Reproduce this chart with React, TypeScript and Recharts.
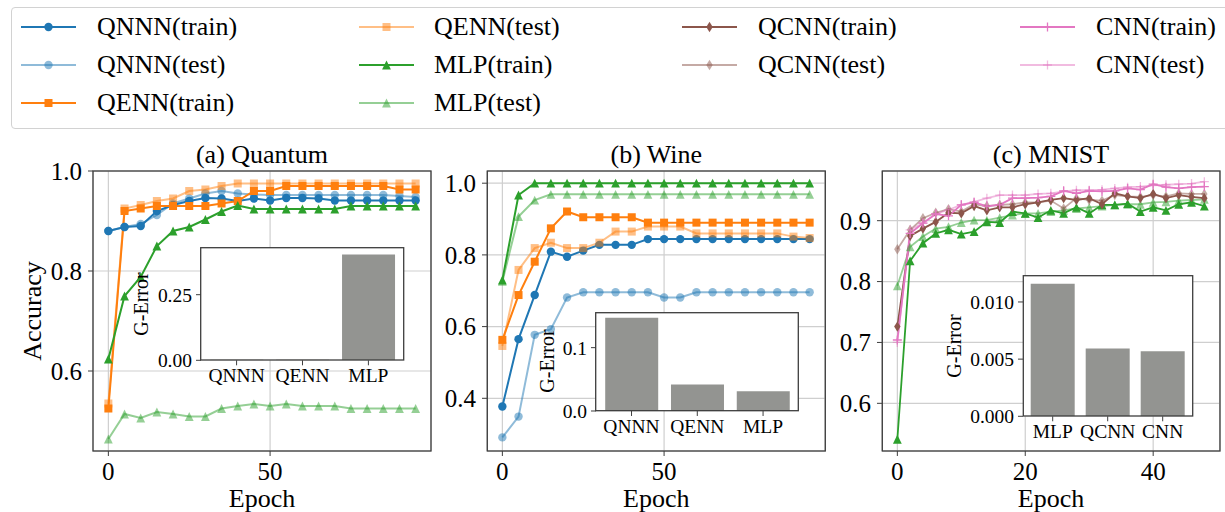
import React from 'react';
import { LineChart, Line, XAxis, YAxis, CartesianGrid, BarChart, Bar } from 'recharts';

const FONT = "'Liberation Serif', 'DejaVu Serif', serif";
const BLUE = '#1f77b4';
const ORANGE = '#ff7f0e';
const GREEN = '#2ca02c';
const BROWN = '#8c564b';
const PINK = '#e377c2';
const SPINE = '#3d3d3d';
const GRID = '#cfcfcf';
const BAR = '#939491';

// (a) Quantum
const quantumEpochs = [0, 5, 10, 15, 20, 25, 30, 35, 40, 45, 50, 55, 60, 65, 70, 75, 80, 85, 90, 95];
const quantumQnnnTrain = [0.880, 0.888, 0.890, 0.920, 0.932, 0.940, 0.946, 0.945, 0.940, 0.945, 0.941, 0.946, 0.946, 0.945, 0.941, 0.941, 0.941, 0.941, 0.941, 0.941];
const quantumQnnnTest = [0.880, 0.888, 0.894, 0.912, 0.935, 0.945, 0.955, 0.960, 0.955, 0.953, 0.952, 0.952, 0.952, 0.952, 0.952, 0.952, 0.952, 0.952, 0.950, 0.948];
const quantumQennTrain = [0.525, 0.920, 0.925, 0.930, 0.930, 0.930, 0.930, 0.935, 0.940, 0.960, 0.960, 0.970, 0.970, 0.970, 0.970, 0.970, 0.970, 0.970, 0.963, 0.963];
const quantumQennTest = [0.535, 0.925, 0.932, 0.940, 0.945, 0.960, 0.963, 0.970, 0.975, 0.975, 0.975, 0.975, 0.975, 0.975, 0.975, 0.975, 0.975, 0.975, 0.975, 0.975];
const quantumMlpTrain = [0.624, 0.750, 0.788, 0.850, 0.880, 0.888, 0.903, 0.919, 0.931, 0.924, 0.924, 0.924, 0.924, 0.924, 0.924, 0.930, 0.930, 0.930, 0.930, 0.930];
const quantumMlpTest = [0.464, 0.514, 0.506, 0.518, 0.514, 0.509, 0.509, 0.525, 0.530, 0.534, 0.530, 0.534, 0.530, 0.530, 0.530, 0.525, 0.525, 0.525, 0.525, 0.525];
const quantumModels = ['QNNN', 'QENN', 'MLP'];
const quantumGError = [0.002, 0.002, 0.4035];

// (b) Wine
const wineEpochs = [0, 5, 10, 15, 20, 25, 30, 35, 40, 45, 50, 55, 60, 65, 70, 75, 80, 85, 90, 95];
const wineQnnnTrain = [0.377, 0.565, 0.688, 0.809, 0.795, 0.812, 0.828, 0.828, 0.828, 0.844, 0.844, 0.844, 0.844, 0.844, 0.844, 0.844, 0.844, 0.844, 0.844, 0.844];
const wineQnnnTest = [0.291, 0.349, 0.577, 0.593, 0.681, 0.696, 0.696, 0.696, 0.696, 0.696, 0.681, 0.681, 0.696, 0.696, 0.696, 0.696, 0.696, 0.696, 0.696, 0.696];
const wineQennTrain = [0.563, 0.688, 0.781, 0.874, 0.921, 0.905, 0.905, 0.905, 0.905, 0.890, 0.890, 0.890, 0.890, 0.890, 0.890, 0.890, 0.890, 0.890, 0.890, 0.890];
const wineQennTest = [0.546, 0.758, 0.819, 0.834, 0.819, 0.819, 0.834, 0.865, 0.865, 0.879, 0.879, 0.879, 0.860, 0.860, 0.860, 0.860, 0.860, 0.860, 0.851, 0.847];
const wineMlpTrain = [0.730, 0.967, 1.0, 1.0, 1.0, 1.0, 1.0, 1.0, 1.0, 1.0, 1.0, 1.0, 1.0, 1.0, 1.0, 1.0, 1.0, 1.0, 1.0, 1.0];
const wineMlpTest = [0.726, 0.907, 0.953, 0.969, 0.969, 0.969, 0.969, 0.969, 0.969, 0.969, 0.969, 0.969, 0.969, 0.969, 0.969, 0.969, 0.969, 0.969, 0.969, 0.969];
const wineModels = ['QNNN', 'QENN', 'MLP'];
const wineGError = [0.1474, 0.042, 0.031];

// (c) MNIST
const mnistEpochs = [0, 2, 4, 6, 8, 10, 12, 14, 16, 18, 20, 22, 24, 26, 28, 30, 32, 34, 36, 38, 40, 42, 44, 46, 48];
const mnistMlpTrain = [0.541, 0.834, 0.863, 0.879, 0.885, 0.878, 0.882, 0.898, 0.897, 0.915, 0.912, 0.905, 0.917, 0.912, 0.922, 0.912, 0.926, 0.926, 0.928, 0.915, 0.922, 0.917, 0.927, 0.930, 0.924];
const mnistMlpTest = [0.793, 0.857, 0.874, 0.887, 0.890, 0.897, 0.901, 0.901, 0.905, 0.909, 0.912, 0.912, 0.915, 0.917, 0.920, 0.922, 0.924, 0.926, 0.927, 0.927, 0.930, 0.931, 0.933, 0.934, 0.935];
const mnistQcnnTrain = [0.726, 0.875, 0.887, 0.898, 0.913, 0.912, 0.924, 0.917, 0.922, 0.922, 0.927, 0.930, 0.934, 0.937, 0.934, 0.937, 0.927, 0.945, 0.940, 0.937, 0.944, 0.937, 0.942, 0.939, 0.937];
const mnistQcnnTest = [0.853, 0.885, 0.904, 0.913, 0.919, 0.915, 0.927, 0.924, 0.926, 0.927, 0.930, 0.930, 0.933, 0.920, 0.937, 0.934, 0.933, 0.942, 0.940, 0.939, 0.942, 0.940, 0.945, 0.944, 0.944];
const mnistCnnTrain = [0.704, 0.879, 0.896, 0.911, 0.908, 0.926, 0.930, 0.924, 0.926, 0.937, 0.937, 0.938, 0.940, 0.949, 0.945, 0.949, 0.948, 0.949, 0.953, 0.951, 0.960, 0.955, 0.953, 0.955, 0.956];
const mnistCnnTest = [0.700, 0.885, 0.896, 0.911, 0.918, 0.926, 0.931, 0.937, 0.942, 0.942, 0.942, 0.944, 0.945, 0.948, 0.950, 0.950, 0.951, 0.953, 0.955, 0.956, 0.958, 0.959, 0.960, 0.961, 0.964];
const mnistModels = ['MLP', 'QCNN', 'CNN'];
const mnistGError = [0.0116, 0.00592, 0.00569];

type MarkerKind = 'circle' | 'square' | 'triangle' | 'diamond' | 'plus';
type Series = { key: string; label: string; color: string; marker: MarkerKind; faded: boolean };
type Box = { x: number; y: number; w: number; h: number };

const S = {
  qnnnTrain: { key: 'qnnnTrain', label: 'QNNN(train)', color: BLUE, marker: 'circle', faded: false },
  qnnnTest: { key: 'qnnnTest', label: 'QNNN(test)', color: BLUE, marker: 'circle', faded: true },
  qennTrain: { key: 'qennTrain', label: 'QENN(train)', color: ORANGE, marker: 'square', faded: false },
  qennTest: { key: 'qennTest', label: 'QENN(test)', color: ORANGE, marker: 'square', faded: true },
  mlpTrain: { key: 'mlpTrain', label: 'MLP(train)', color: GREEN, marker: 'triangle', faded: false },
  mlpTest: { key: 'mlpTest', label: 'MLP(test)', color: GREEN, marker: 'triangle', faded: true },
  qcnnTrain: { key: 'qcnnTrain', label: 'QCNN(train)', color: BROWN, marker: 'diamond', faded: false },
  qcnnTest: { key: 'qcnnTest', label: 'QCNN(test)', color: BROWN, marker: 'diamond', faded: true },
  cnnTrain: { key: 'cnnTrain', label: 'CNN(train)', color: PINK, marker: 'plus', faded: false },
  cnnTest: { key: 'cnnTest', label: 'CNN(test)', color: PINK, marker: 'plus', faded: true },
} as Record<string, Series>;

const quantumRows = quantumEpochs.map((epoch, i) => ({
  epoch,
  qnnnTrain: quantumQnnnTrain[i], qnnnTest: quantumQnnnTest[i],
  qennTrain: quantumQennTrain[i], qennTest: quantumQennTest[i],
  mlpTrain: quantumMlpTrain[i], mlpTest: quantumMlpTest[i],
}));
const wineRows = wineEpochs.map((epoch, i) => ({
  epoch,
  qnnnTrain: wineQnnnTrain[i], qnnnTest: wineQnnnTest[i],
  qennTrain: wineQennTrain[i], qennTest: wineQennTest[i],
  mlpTrain: wineMlpTrain[i], mlpTest: wineMlpTest[i],
}));
const mnistRows = mnistEpochs.map((epoch, i) => ({
  epoch,
  mlpTrain: mnistMlpTrain[i], mlpTest: mnistMlpTest[i],
  qcnnTrain: mnistQcnnTrain[i], qcnnTest: mnistQcnnTest[i],
  cnnTrain: mnistCnnTrain[i], cnnTest: mnistCnnTest[i],
}));
const toBars = (models: string[], vals: number[]) => models.map((model, i) => ({ model, err: vals[i] }));

function MarkerShape({ kind, cx, cy, color, opacity }: { kind: MarkerKind; cx: number; cy: number; color: string; opacity: number }) {
  if (cx == null || cy == null) return null;
  switch (kind) {
    case 'circle':
      return <circle cx={cx} cy={cy} r={4.2} fill={color} fillOpacity={opacity} />;
    case 'square':
      return <rect x={cx - 4} y={cy - 4} width={8} height={8} fill={color} fillOpacity={opacity} />;
    case 'triangle': {
      const s = 4.4;
      return <polygon points={`${cx},${cy - s} ${cx + s},${cy + s} ${cx - s},${cy + s}`} fill={color} fillOpacity={opacity} />;
    }
    case 'diamond':
      return <polygon points={`${cx},${cy - 5.2} ${cx + 3.2},${cy} ${cx},${cy + 5.2} ${cx - 3.2},${cy}`} fill={color} fillOpacity={opacity} />;
    case 'plus':
      return (
        <g stroke={color} strokeOpacity={opacity} strokeWidth={1.3}>
          <line x1={cx - 4.5} y1={cy} x2={cx + 4.5} y2={cy} />
          <line x1={cx} y1={cy - 4.5} x2={cx} y2={cy + 4.5} />
        </g>
      );
  }
  return null;
}

const Y_AXIS_W = 90;
const X_AXIS_H = 45;
const PAD_TOP = 22;
const PAD_RIGHT = 12;

function Panel(props: {
  box: Box; rows: any[]; series: Series[]; xDomain: number[]; xTicks: number[];
  yDomain: number[]; yTicks: number[]; lw: number;
}) {
  const { box, rows, series, xDomain, xTicks, yDomain, yTicks, lw } = props;
  const tickStyle = { fontSize: 25, fontFamily: FONT, fill: '#000' };
  return (
    <div style={{ position: 'absolute', left: box.x - Y_AXIS_W, top: box.y - PAD_TOP }}>
      <LineChart
        width={Y_AXIS_W + box.w + PAD_RIGHT}
        height={PAD_TOP + box.h + X_AXIS_H}
        data={rows}
        margin={{ top: PAD_TOP, right: PAD_RIGHT, bottom: 0, left: 0 }}
      >
        <CartesianGrid stroke={GRID} strokeWidth={1.2} />
        <XAxis
          dataKey="epoch" type="number" domain={xDomain} ticks={xTicks} allowDataOverflow interval={0}
          height={X_AXIS_H} tickSize={5} tickMargin={6} axisLine={false}
          tickLine={{ stroke: SPINE }} tick={tickStyle}
        />
        <YAxis
          type="number" domain={yDomain} ticks={yTicks} allowDataOverflow interval={0}
          width={Y_AXIS_W} tickSize={5} tickMargin={6} axisLine={false}
          tickLine={{ stroke: SPINE }} tick={tickStyle}
          tickFormatter={(v: number) => v.toFixed(1)}
        />
        {series.map((s) => {
          const op = s.faded ? 0.5 : 1;
          return (
            <Line
              key={s.key}
              type="linear"
              dataKey={s.key}
              stroke={s.color}
              strokeOpacity={op}
              strokeWidth={lw}
              activeDot={false}
              isAnimationActive={false}
              dot={(p: any) => (
                <MarkerShape key={`${s.key}-${p.index}`} kind={s.marker} cx={p.cx} cy={p.cy} color={s.color} opacity={op} />
              )}
            />
          );
        })}
      </LineChart>
    </div>
  );
}

const IN_Y_W = 70;
const IN_X_H = 32;
const IN_PAD = 12;

function Inset(props: { box: Box; rows: any[]; yDomain: number[]; yTicks: number[]; digits: number }) {
  const { box, rows, yDomain, yTicks, digits } = props;
  const tickStyle = { fontSize: 19.5, fontFamily: FONT, fill: '#000' };
  const pad = box.w * 0.013;
  return (
    <div style={{ position: 'absolute', left: box.x - IN_Y_W, top: box.y - IN_PAD }}>
      <BarChart
        width={IN_Y_W + box.w + IN_PAD}
        height={IN_PAD + box.h + IN_X_H}
        data={rows}
        margin={{ top: IN_PAD, right: IN_PAD, bottom: 0, left: 0 }}
        barCategoryGap="10%"
      >
        <CartesianGrid horizontal={false} vertical={false} fill="#ffffff" fillOpacity={1} />
        <XAxis
          dataKey="model" type="category" interval={0} padding={{ left: pad, right: pad }}
          height={IN_X_H} tickSize={5} tickMargin={3} axisLine={false}
          tickLine={{ stroke: SPINE }} tick={tickStyle}
        />
        <YAxis
          type="number" domain={yDomain} ticks={yTicks} allowDataOverflow interval={0}
          width={IN_Y_W} tickSize={5} tickMargin={4} axisLine={false}
          tickLine={{ stroke: SPINE }} tick={tickStyle}
          tickFormatter={(v: number) => v.toFixed(digits)}
        />
        <Bar dataKey="err" fill={BAR} isAnimationActive={false} />
      </BarChart>
    </div>
  );
}

function Text({ x, y, size, children, rotate }: { x: number; y: number; size: number; children: React.ReactNode; rotate?: boolean }) {
  return (
    <div
      style={{
        position: 'absolute', left: x, top: y, fontSize: size, lineHeight: 0.9, whiteSpace: 'nowrap',
        transform: `translate(-50%, -50%)${rotate ? ' rotate(-90deg)' : ''}`, color: '#000',
      }}
    >
      {children}
    </div>
  );
}

const legendCols = [
  { lineX: 21, textX: 97, items: [S.qnnnTrain, S.qnnnTest, S.qennTrain] },
  { lineX: 359, textX: 434, items: [S.qennTest, S.mlpTrain, S.mlpTest] },
  { lineX: 682, textX: 758, items: [S.qcnnTrain, S.qcnnTest] },
  { lineX: 1020, textX: 1096, items: [S.cnnTrain, S.cnnTest] },
];
const legendRowsY = [27, 65, 103];

function Legend() {
  return (
    <>
      <div style={{
        position: 'absolute', left: 11, top: 7, width: 1240, height: 120,
        border: '1px solid #d2d2d2', borderRadius: 4, background: '#fff',
      }} />
      {legendCols.map((col) => col.items.map((s, r) => {
        const op = s.faded ? 0.5 : 1;
        const y = legendRowsY[r];
        return (
          <React.Fragment key={s.key}>
            <svg style={{ position: 'absolute', left: col.lineX, top: y - 10 }} width={56} height={20}>
              <line x1={0} y1={10} x2={55} y2={10} stroke={s.color} strokeOpacity={op} strokeWidth={2} />
              <MarkerShape kind={s.marker} cx={27.5} cy={10} color={s.color} opacity={op} />
            </svg>
            <div style={{ position: 'absolute', left: col.textX, top: y, transform: 'translateY(-50%)', fontSize: 26, lineHeight: 1, whiteSpace: 'nowrap' }}>
              {s.label}
            </div>
          </React.Fragment>
        );
      }))}
    </>
  );
}

const boxA: Box = { x: 93, y: 171, w: 338, h: 280 };
const boxB: Box = { x: 487.3, y: 171, w: 338, h: 280 };
const boxC: Box = { x: 882.3, y: 171, w: 337.7, h: 280 };
const insetA: Box = { x: 200.7, y: 247.7, w: 203, h: 112.3 };
const insetB: Box = { x: 595.7, y: 312.7, w: 202.6, h: 98 };
const insetC: Box = { x: 1023.3, y: 275.7, w: 169.4, h: 140.3 };

export default function App() {
  const frames = [boxA, boxB, boxC, insetA, insetB, insetC];
  return (
    <div style={{ position: 'absolute', left: 0, top: 0, width: 1225, height: 512, overflow: 'hidden', background: '#fff', fontFamily: FONT }}>
      <Legend />

      <Panel box={boxA} rows={quantumRows} series={[S.qnnnTrain, S.qnnnTest, S.qennTrain, S.qennTest, S.mlpTrain, S.mlpTest]}
        xDomain={[-4.75, 99.75]} xTicks={[0, 50]} yDomain={[0.44, 1.0]} yTicks={[0.6, 0.8, 1.0]} lw={2} />
      <Panel box={boxB} rows={wineRows} series={[S.qnnnTrain, S.qnnnTest, S.qennTrain, S.qennTest, S.mlpTrain, S.mlpTest]}
        xDomain={[-4.75, 99.75]} xTicks={[0, 50]} yDomain={[0.253, 1.034]} yTicks={[0.4, 0.6, 0.8, 1.0]} lw={2} />
      <Panel box={boxC} rows={mnistRows} series={[S.mlpTrain, S.mlpTest, S.qcnnTrain, S.qcnnTest, S.cnnTrain, S.cnnTest]}
        xDomain={[-2.4, 50.4]} xTicks={[0, 20, 40]} yDomain={[0.5217, 0.9816]} yTicks={[0.6, 0.7, 0.8, 0.9]} lw={1.8} />

      <Inset box={insetA} rows={toBars(quantumModels, quantumGError)} yDomain={[0, 0.428]} yTicks={[0, 0.25]} digits={2} />
      <Inset box={insetB} rows={toBars(wineModels, wineGError)} yDomain={[0, 0.1547]} yTicks={[0, 0.1]} digits={1} />
      <Inset box={insetC} rows={toBars(mnistModels, mnistGError)} yDomain={[0, 0.01227]} yTicks={[0, 0.005, 0.01]} digits={3} />

      <svg style={{ position: 'absolute', left: 0, top: 0, pointerEvents: 'none' }} width={1225} height={512}>
        {frames.map((b, i) => (
          <rect key={i} x={b.x} y={b.y} width={b.w} height={b.h} fill="none" stroke={SPINE} strokeWidth={1.3} />
        ))}
      </svg>

      <Text x={262} y={155} size={26}>(a) Quantum</Text>
      <Text x={656.3} y={155} size={26}>(b) Wine</Text>
      <Text x={1051} y={155} size={26}>(c) MNIST</Text>
      <Text x={262} y={499} size={26}>Epoch</Text>
      <Text x={656.3} y={499} size={26}>Epoch</Text>
      <Text x={1051} y={499} size={26}>Epoch</Text>
      <Text x={33} y={311} size={26} rotate>Accuracy</Text>
      <Text x={140.5} y={303.5} size={20} rotate>G-Error</Text>
      <Text x={546.7} y={361} size={20} rotate>G-Error</Text>
      <Text x={954} y={346} size={20} rotate>G-Error</Text>
    </div>
  );
}
